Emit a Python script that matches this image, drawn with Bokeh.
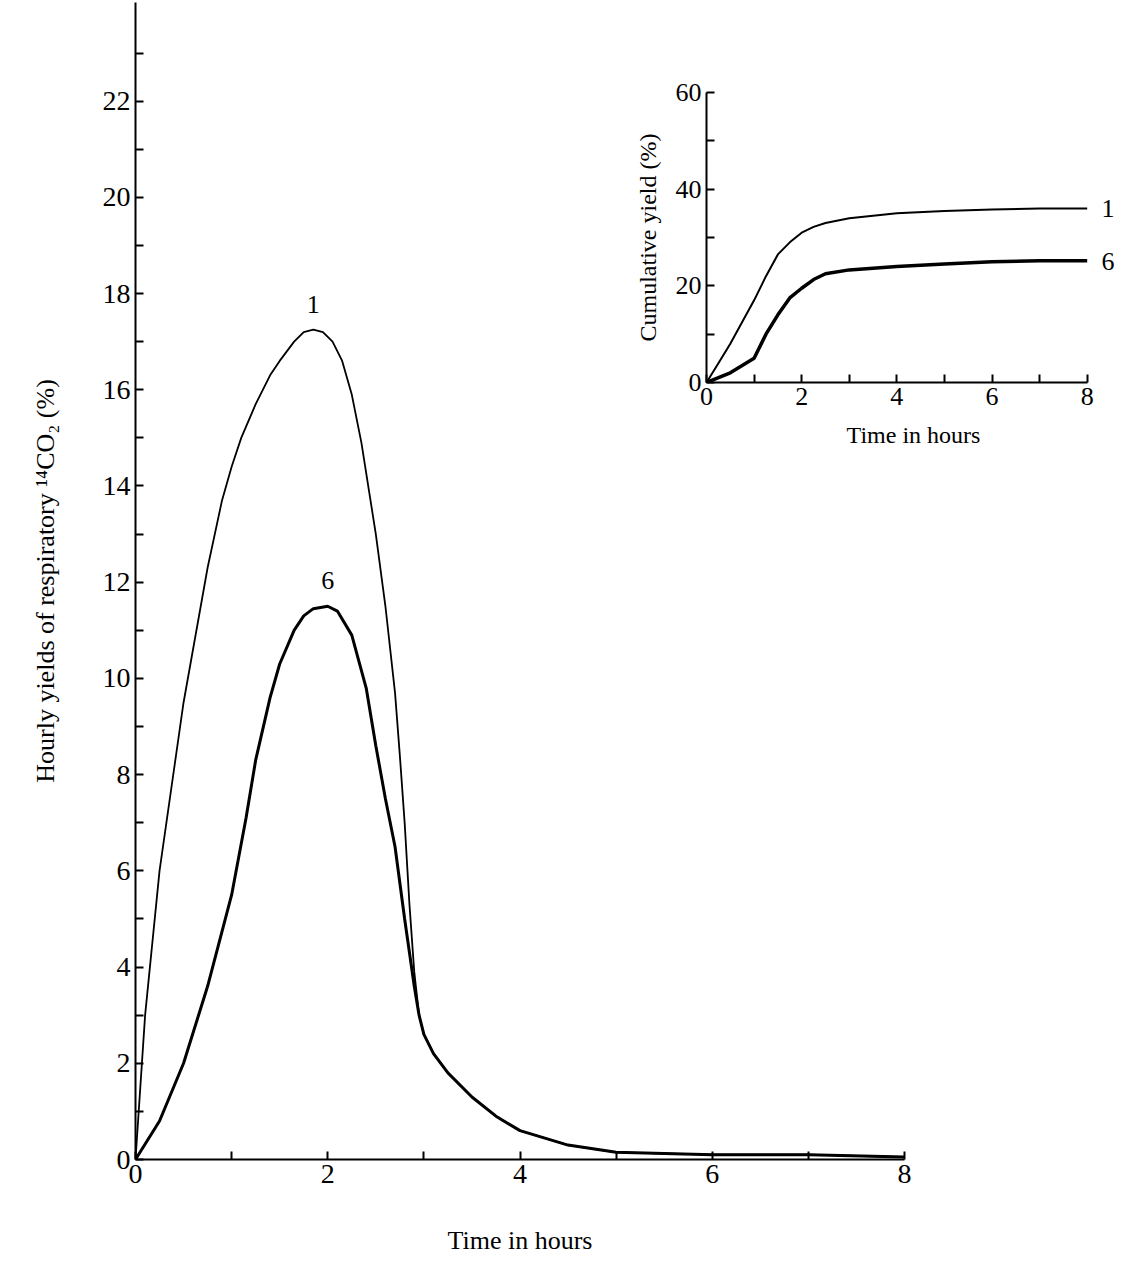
from bokeh.plotting import figure
from bokeh.models import Range1d, FixedTicker, Label, Column
from bokeh.embed import file_html
from bokeh.resources import INLINE

FONT = "Liberation Serif"

# hourly yields (%)
t1 = [0, 0.05, 0.1, 0.25, 0.5, 0.75, 0.9, 1.0, 1.1, 1.25, 1.4, 1.5, 1.65, 1.75, 1.85, 1.95, 2.05, 2.15, 2.25, 2.35, 2.5, 2.6, 2.7, 2.75, 2.8, 2.85, 2.9, 2.95, 3.0, 3.1, 3.25, 3.5, 3.75, 4.0, 4.5, 5.0, 6.0, 7.0, 8.0]
y1 = [0, 1.5, 3.0, 6.0, 9.5, 12.3, 13.7, 14.4, 15.0, 15.7, 16.3, 16.6, 17.0, 17.2, 17.25, 17.2, 17.0, 16.6, 15.9, 14.9, 13.0, 11.5, 9.7, 8.4, 7.0, 5.3, 3.9, 3.0, 2.6, 2.2, 1.8, 1.3, 0.9, 0.6, 0.3, 0.15, 0.1, 0.1, 0.05]
t6 = [0, 0.25, 0.5, 0.75, 1.0, 1.15, 1.25, 1.4, 1.5, 1.65, 1.75, 1.85, 2.0, 2.1, 2.25, 2.4, 2.5, 2.6, 2.7, 2.8, 2.9, 2.95, 3.0, 3.1, 3.25, 3.5, 3.75, 4.0, 4.5, 5.0, 6.0, 7.0, 8.0]
y6 = [0, 0.8, 2.0, 3.6, 5.5, 7.1, 8.3, 9.6, 10.3, 11.0, 11.3, 11.45, 11.5, 11.4, 10.9, 9.8, 8.6, 7.5, 6.5, 5.0, 3.6, 3.0, 2.6, 2.2, 1.8, 1.3, 0.9, 0.6, 0.3, 0.15, 0.1, 0.1, 0.05]

# cumulative yields (%)
ct1 = [0, 0.25, 0.5, 0.75, 1.0, 1.25, 1.5, 1.75, 2.0, 2.25, 2.5, 3.0, 4.0, 5.0, 6.0, 7.0, 8.0]
cy1 = [0, 4, 8, 12.5, 17, 22, 26.5, 29, 31, 32.2, 33, 34, 35, 35.5, 35.8, 36, 36]
ct6 = [0, 0.5, 1.0, 1.25, 1.5, 1.75, 2.0, 2.25, 2.5, 3.0, 4.0, 5.0, 6.0, 7.0, 8.0]
cy6 = [0, 2, 5, 10, 14, 17.5, 19.5, 21.3, 22.5, 23.3, 24, 24.5, 25, 25.2, 25.2]


def style(fig, xticks, yticks, xminor, yminor, size, title_size):
    fig.xgrid.visible = False
    fig.ygrid.visible = False
    fig.outline_line_color = None
    fig.background_fill_color = None
    fig.border_fill_color = None
    fig.xaxis.ticker = FixedTicker(ticks=xticks, minor_ticks=xminor)
    fig.yaxis.ticker = FixedTicker(ticks=yticks, minor_ticks=yminor)
    fig.axis.axis_line_color = "black"
    fig.axis.axis_line_width = 2
    fig.axis.major_tick_in = 8
    fig.axis.major_tick_out = 0
    fig.axis.minor_tick_in = 8
    fig.axis.minor_tick_out = 0
    fig.axis.major_tick_line_width = 2
    fig.axis.minor_tick_line_width = 2
    fig.axis.major_label_text_font = FONT
    fig.axis.major_label_text_font_size = size
    fig.axis.major_label_text_color = "black"
    fig.axis.axis_label_text_font = FONT
    fig.axis.axis_label_text_font_size = title_size
    fig.axis.axis_label_text_font_style = "normal"
    fig.axis.axis_label_text_color = "black"


p = figure(output_backend="svg", toolbar_location=None,
           x_range=Range1d(0, 8), y_range=Range1d(0, 24.05),
           frame_width=769, frame_height=1157,
           min_border_left=135, min_border_top=2, min_border_right=40, min_border_bottom=100,
           x_axis_label="Time in hours",
           y_axis_label="Hourly yields of respiratory \u00b9\u2074CO\u2082 (%)")
style(p, [0, 2, 4, 6, 8], list(range(0, 23, 2)), [1, 3, 5, 7], list(range(1, 24, 2)), "28px", "26px")
p.xaxis.axis_label_standoff = 40
p.yaxis.axis_label_standoff = 40
p.line(t1, y1, line_color="black", line_width=1.8)
p.line(t6, y6, line_color="black", line_width=3)
p.add_layout(Label(x=1.85, y=17.6, text="1", text_font=FONT, text_font_size="26px", text_align="center", text_color="black"))
p.add_layout(Label(x=2.0, y=11.85, text="6", text_font=FONT, text_font_size="26px", text_align="center", text_color="black"))

q = figure(output_backend="svg", toolbar_location=None,
           x_range=Range1d(0, 8.7), y_range=Range1d(0, 60),
           frame_width=414, frame_height=290,
           min_border_left=130, min_border_top=20, min_border_right=5, min_border_bottom=90,
           x_axis_label="Time in hours", y_axis_label="Cumulative yield (%)",
           styles={"position": "absolute", "left": "571px", "top": "72px"})
style(q, [0, 2, 4, 6, 8], [0, 20, 40, 60], [1, 3, 5, 7], [10, 30, 50], "26px", "24px")
q.xaxis.bounds = (0, 8)
q.xaxis.axis_label_standoff = 14
q.yaxis.axis_label_standoff = 12
q.line(ct1, cy1, line_color="black", line_width=2)
q.line(ct6, cy6, line_color="black", line_width=3.5)
q.add_layout(Label(x=8.3, y=36, text="1", text_font=FONT, text_font_size="26px", text_baseline="middle", text_color="black"))
q.add_layout(Label(x=8.3, y=25, text="6", text_font=FONT, text_font_size="26px", text_baseline="middle", text_color="black"))

layout = Column(children=[p, q], styles={"position": "relative"})
open("out.html", "w").write(file_html(layout, INLINE))
